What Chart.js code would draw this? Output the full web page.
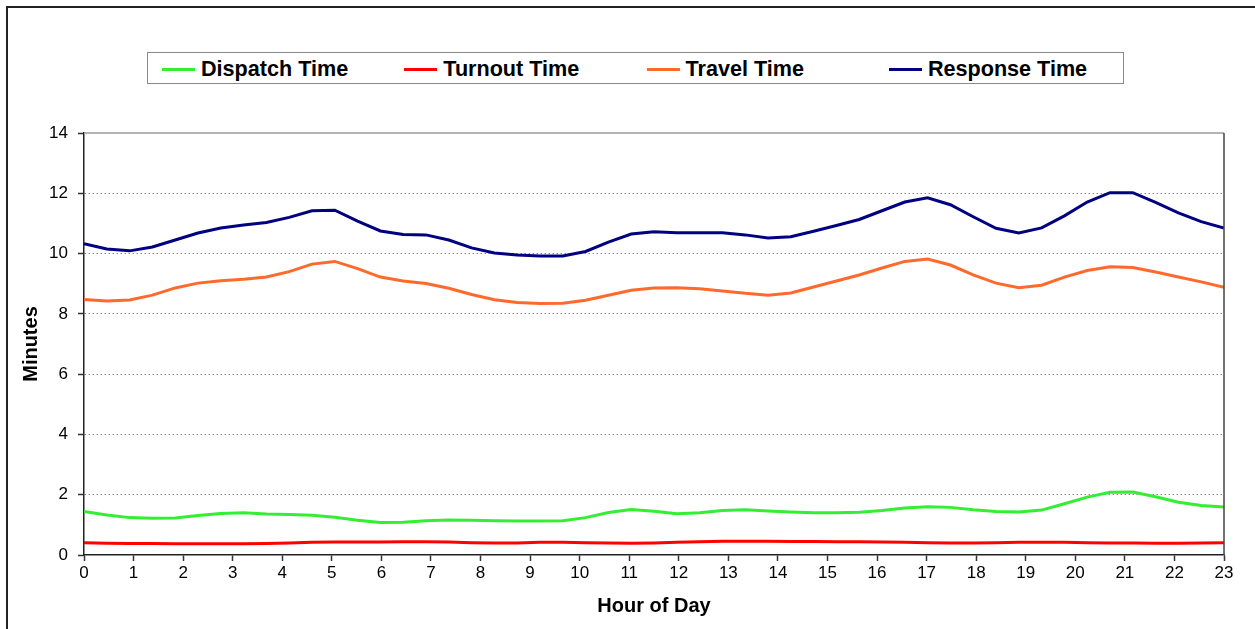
<!DOCTYPE html>
<html>
<head>
<meta charset="utf-8">
<title>Response Time by Hour of Day</title>
<script src="https://cdn.jsdelivr.net/npm/chart.js@4.4.1/dist/chart.umd.min.js"></script>
<style>
    html, body { margin: 0; padding: 0; background: #fff; overflow: hidden; }
    body { width: 1255px; height: 629px; position: relative; font-family: "Liberation Sans", Arial, sans-serif; }
    #frame {
        position: absolute; left: 6px; top: 6px; width: 1300px; height: 700px;
        border-left: 2px solid #222; border-top: 2px solid #222;
    }
    #chart { position: absolute; left: 0; top: 0; }
    #legend {
        position: absolute; left: 147px; top: 52px; width: 975px; height: 30px;
        border: 1.5px solid #8a8a8a; background: #fff;
    }
    .item { position: absolute; top: 1px; height: 30px; display: flex; align-items: center; }
    .item .swatch { width: 33px; height: 3px; margin-right: 6px; }
    .item span { font-weight: bold; font-size: 21.6px; color: #000; }
</style>
</head>
<body>
<div id="frame"></div>
<canvas id="chart" width="1255" height="629"></canvas>
<div id="legend"></div>

<script>
// sample times (hours) and minutes per component
const hours = [0, 0.46, 0.92, 1.38, 1.84, 2.3, 2.76, 3.22, 3.68, 4.14,
    4.6, 5.06, 5.52, 5.98, 6.44, 6.9, 7.36, 7.82, 8.28, 8.74,
    9.2, 9.66, 10.12, 10.58, 11.04, 11.5, 11.96, 12.42, 12.88, 13.34,
    13.8, 14.26, 14.72, 15.18, 15.64, 16.1, 16.56, 17.02, 17.48, 17.94,
    18.4, 18.86, 19.32, 19.78, 20.24, 20.7, 21.16, 21.62, 22.08, 22.54,
    23];

const dispatchTime = [1.44, 1.33, 1.24, 1.22, 1.23, 1.31, 1.38, 1.40, 1.36, 1.34,
    1.32, 1.25, 1.15, 1.08, 1.09, 1.14, 1.16, 1.15, 1.14, 1.13,
    1.13, 1.14, 1.24, 1.41, 1.51, 1.45, 1.37, 1.40, 1.48, 1.50,
    1.46, 1.43, 1.40, 1.40, 1.42, 1.48, 1.56, 1.60, 1.58, 1.50,
    1.44, 1.43, 1.49, 1.70, 1.92, 2.08, 2.09, 1.93, 1.75, 1.64,
    1.59];

const turnoutTime = [0.41, 0.39, 0.38, 0.38, 0.37, 0.37, 0.37, 0.37, 0.38, 0.40,
    0.42, 0.43, 0.43, 0.43, 0.44, 0.44, 0.43, 0.41, 0.40, 0.40,
    0.42, 0.42, 0.41, 0.40, 0.39, 0.40, 0.42, 0.44, 0.46, 0.46,
    0.46, 0.45, 0.45, 0.44, 0.44, 0.43, 0.42, 0.41, 0.40, 0.40,
    0.41, 0.42, 0.42, 0.42, 0.41, 0.40, 0.40, 0.39, 0.39, 0.40,
    0.41];

const travelTime = [8.48, 8.43, 8.46, 8.62, 8.86, 9.02, 9.10, 9.15, 9.22, 9.40,
    9.65, 9.74, 9.50, 9.22, 9.09, 9.01, 8.85, 8.64, 8.47, 8.38,
    8.34, 8.35, 8.45, 8.62, 8.78, 8.86, 8.87, 8.83, 8.76, 8.68,
    8.62, 8.69, 8.89, 9.09, 9.29, 9.52, 9.74, 9.82, 9.62, 9.29,
    9.02, 8.87, 8.95, 9.22, 9.44, 9.56, 9.54, 9.39, 9.22, 9.06,
    8.88];

const responseTime = [10.33, 10.15, 10.09, 10.22, 10.45, 10.68, 10.85, 10.95, 11.03, 11.20,
    11.42, 11.44, 11.08, 10.75, 10.63, 10.62, 10.45, 10.19, 10.02, 9.95,
    9.92, 9.92, 10.07, 10.38, 10.65, 10.72, 10.69, 10.69, 10.69, 10.62,
    10.52, 10.56, 10.74, 10.93, 11.13, 11.42, 11.71, 11.85, 11.62, 11.22,
    10.84, 10.68, 10.85, 11.25, 11.71, 12.02, 12.02, 11.70, 11.35, 11.06,
    10.85];

const hourTicks = [0, 1, 2, 3, 4, 5, 6, 7, 8, 9, 10, 11, 12, 13, 14, 15, 16, 17, 18, 19, 20, 21, 22, 23];
const minuteTicks = [0, 2, 4, 6, 8, 10, 12, 14];

const seriesNames = ['Dispatch Time', 'Turnout Time', 'Travel Time', 'Response Time'];
const seriesColors = ['#33ee33', '#ff0000', '#ff6a2c', '#000080'];
const seriesValues = [dispatchTime, turnoutTime, travelTime, responseTime];

const FONT = '"Liberation Sans", Arial, sans-serif';

// legend row, fixed-width cells
const legendEl = document.getElementById('legend');
seriesNames.forEach((name, i) => {
    const item = document.createElement('div');
    item.className = 'item';
    item.style.left = (14 + i * 242.3) + 'px';
    item.innerHTML = `<div class="swatch" style="background:${seriesColors[i]}"></div><span>${name}</span>`;
    legendEl.appendChild(item);
});

// top and right edges of the plot frame
const plotFrame = {
    id: 'plotFrame',
    afterDraw(chart) {
        const { ctx, chartArea: a } = chart;
        ctx.save();
        ctx.lineWidth = 1.5;
        ctx.strokeStyle = '#9a9a9a';
        ctx.beginPath();
        ctx.moveTo(a.left, a.top);
        ctx.lineTo(a.right, a.top);
        ctx.stroke();
        ctx.strokeStyle = '#444';
        ctx.beginPath();
        ctx.moveTo(a.right, a.top);
        ctx.lineTo(a.right, a.bottom);
        ctx.stroke();
        ctx.restore();
    }
};

new Chart(document.getElementById('chart'), {
    type: 'line',
    data: {
        datasets: seriesNames.map((name, i) => ({
            label: name,
            data: hours.map((h, j) => ({ x: h, y: seriesValues[i][j] })),
            borderColor: seriesColors[i],
            borderWidth: 3,
            pointRadius: 0,
            tension: 0,
            fill: false
        }))
    },
    options: {
        responsive: false,
        animation: false,
        layout: { padding: { top: 133, right: 31, left: 0, bottom: 0 } },
        plugins: { legend: { display: false }, tooltip: { enabled: false } },
        scales: {
            x: {
                type: 'linear',
                min: 0,
                max: 23,
                afterBuildTicks: s => { s.ticks = hourTicks.map(v => ({ value: v })); },
                afterFit: s => { s.height = 74; },
                grid: { drawOnChartArea: false, drawTicks: true, tickLength: 6, tickColor: '#333', tickWidth: 1.5 },
                border: { color: '#222', width: 1.5 },
                ticks: { color: '#000', padding: 2, maxRotation: 0, autoSkip: false, font: { family: FONT, size: 17 } },
                title: { display: true, text: 'Hour of Day', color: '#000', padding: { top: 0, bottom: 11 }, font: { family: FONT, size: 20, weight: 'bold' } }
            },
            y: {
                min: 0,
                max: 14,
                afterBuildTicks: s => { s.ticks = minuteTicks.map(v => ({ value: v })); },
                afterFit: s => { s.width = 84; },
                grid: {
                    color: c => (c.tick && (c.tick.value === 0 || c.tick.value === 14)) ? 'rgba(0,0,0,0)' : '#8c8c8c',
                    lineWidth: 1,
                    tickLength: 6,
                    tickColor: '#333',
                    tickWidth: 1.5
                },
                border: { color: '#222', width: 1.5, dash: [1.5, 2.5] },
                ticks: { color: '#000', padding: 10, font: { family: FONT, size: 17 } },
                title: { display: true, text: 'Minutes', color: '#000', padding: { top: 19, bottom: 0 }, font: { family: FONT, size: 20, weight: 'bold' } }
            }
        }
    },
    plugins: [plotFrame]
});
</script>
</body>
</html>
